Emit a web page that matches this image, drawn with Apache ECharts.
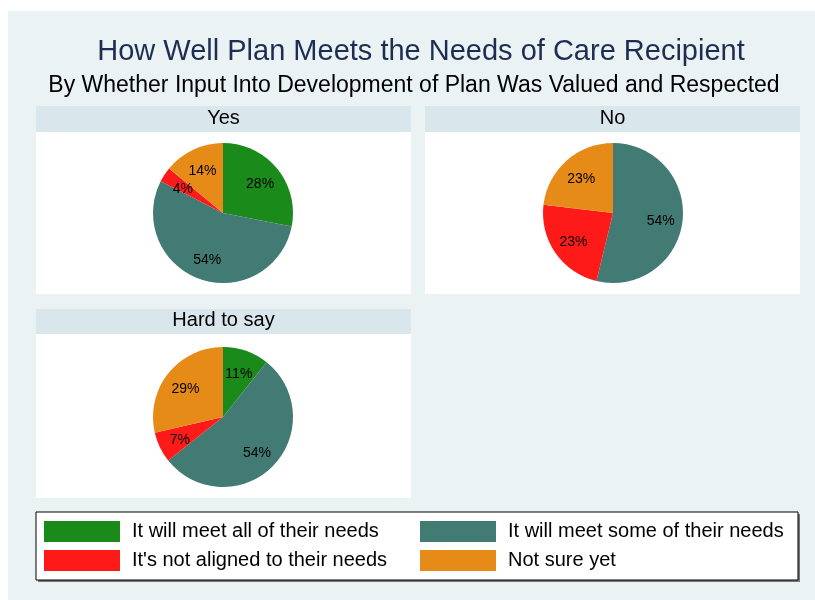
<!DOCTYPE html>
<html>
<head>
<meta charset="utf-8">
<script src="https://cdn.jsdelivr.net/npm/echarts@6/dist/echarts.min.js"></script>
<style>
  html, body { margin: 0; padding: 0; background: #fff; }
  #chart { width: 815px; height: 600px; }
</style>
</head>
<body>
<div id="chart"></div>
<script>
// categories (legend order = slice order, clockwise from 12 o'clock)
const categories = [
  "It will meet all of their needs",
  "It will meet some of their needs",
  "It's not aligned to their needs",
  "Not sure yet"
];
const panelNames = ["Yes", "No", "Hard to say"];
// percentages
const yesValues = [28.1, 54.4, 3.5, 14.0];
const noValues = [0, 53.8, 23.1, 23.1];
const hardValues = [10.7, 53.6, 7.1, 28.6];

const colors = ["#1a8a1a", "#427a74", "#ff1a1a", "#e68a18"];
const FONT = "Liberation Sans, Arial, sans-serif";

const myChart = echarts.init(document.getElementById("chart"));

// panel boxes: [left, top, right, headerBottom, bottom], pie center
const panels = [
  { box: [36, 106, 411, 132, 294], center: [223, 213], values: yesValues },
  { box: [425, 106, 800, 132, 294], center: [613, 213], values: noValues },
  { box: [36, 309, 411, 334, 498], center: [223, 417], values: hardValues }
];

function toData(values) {
  return categories.map(function (c, i) {
    return { name: c, value: values[i] };
  });
}

let graphics = [
  { type: "rect", shape: { x: 8, y: 11, width: 807, height: 589 }, style: { fill: "#eaf2f3" }, z: -10 },
  {
    type: "text", x: 421, y: 52, z: 10,
    style: { text: "How Well Plan Meets the Needs of Care Recipient", fill: "#1e2d52",
      font: "29px " + FONT, textAlign: "center", textVerticalAlign: "middle" }
  },
  {
    type: "text", x: 414, y: 86, z: 10,
    style: { text: "By Whether Input Into Development of Plan Was Valued and Respected", fill: "#000",
      font: "23px " + FONT, textAlign: "center", textVerticalAlign: "middle" }
  },
  // legend box with its shadow
  { type: "rect", shape: { x: 38, y: 514, width: 762, height: 68 }, style: { fill: "#777" }, z: -5 },
  { type: "rect", shape: { x: 36, y: 512, width: 762, height: 68 }, style: { fill: "#fff", stroke: "#000", lineWidth: 1 }, z: -4 }
];

let series = [];
panels.forEach(function (p, k) {
  const b = p.box;
  graphics.push(
    { type: "rect", shape: { x: b[0], y: b[1], width: b[2] - b[0], height: b[3] - b[1] }, style: { fill: "#d9e6ec" }, z: -5 },
    { type: "rect", shape: { x: b[0], y: b[3], width: b[2] - b[0], height: b[4] - b[3] }, style: { fill: "#fff" }, z: -5 },
    {
      type: "text", x: (b[0] + b[2]) / 2, y: (b[1] + b[3]) / 2 - 1, z: 10,
      style: { text: panelNames[k], fill: "#000", font: "20px " + FONT, textAlign: "center", textVerticalAlign: "middle" }
    }
  );
  // the pie itself
  series.push({
    type: "pie",
    center: p.center,
    radius: 70,
    startAngle: 90,
    clockwise: true,
    silent: true,
    label: { show: false },
    labelLine: { show: false },
    itemStyle: { borderWidth: 0 },
    emphasis: { disabled: true },
    data: toData(p.values)
  });
  // transparent copy, only to put the labels a bit further out
  series.push({
    type: "pie",
    center: p.center,
    radius: [20, 70],
    startAngle: 90,
    clockwise: true,
    silent: true,
    legendHoverLink: false,
    itemStyle: { color: "transparent", borderWidth: 0 },
    emphasis: { disabled: true },
    label: {
      show: true,
      position: "inside",
      color: "#000",
      fontSize: 14,
      fontFamily: FONT,
      offset: [0, 2],
      formatter: function (d) {
        return d.value > 0 ? Math.round(d.value) + "%" : "";
      }
    },
    labelLine: { show: false },
    data: toData(p.values)
  });
});

function legendCol(names, left) {
  return {
    data: names,
    left: left,
    top: 521,
    orient: "vertical",
    icon: "rect",
    itemWidth: 76,
    itemHeight: 21,
    itemGap: 8,
    selectedMode: false,
    padding: 0,
    textStyle: { fontSize: 20, fontFamily: FONT, color: "#000", padding: [2, 0, 0, 7] }
  };
}

let option = {
  animation: false,
  color: colors,
  backgroundColor: "#fff",
  graphic: graphics,
  legend: [
    legendCol([categories[0], categories[2]], 44),
    legendCol([categories[1], categories[3]], 420)
  ],
  series: series
};
myChart.setOption(option);
</script>
</body>
</html>
